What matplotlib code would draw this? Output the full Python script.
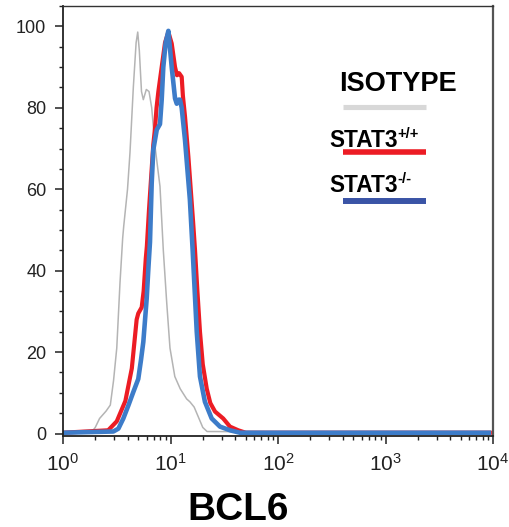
#!/usr/bin/env python
"""
BCL6 flow cytometry histogram: isotype vs STAT3+/+ vs STAT3-/-.
"""
import numpy as np
import matplotlib
matplotlib.use('Agg')
import matplotlib.pyplot as plt
from matplotlib.ticker import MultipleLocator, LogLocator

plt.rcParams['font.family'] = ['Liberation Sans', 'DejaVu Sans']
plt.rcParams['mathtext.fontset'] = 'custom'
plt.rcParams['mathtext.rm'] = 'Liberation Sans'
plt.rcParams['mathtext.bf'] = 'Liberation Sans:bold'

# histogram traces, x given as log10(BCL6 intensity), y as % of max
iso_log = [0.00, 0.26, 0.30, 0.34, 0.40, 0.44, 0.47, 0.50, 0.53, 0.555,
           0.565, 0.60, 0.623, 0.654, 0.68, 0.695, 0.71, 0.73, 0.747, 0.775,
           0.80, 0.825, 0.856, 0.902, 0.933, 0.965, 0.995, 1.04, 1.09, 1.15,
           1.18, 1.22, 1.26, 1.30, 1.34, 3.97]
iso_pct = [0.2, 0.2, 1.5, 3.7, 5.5, 7.0, 13, 21, 37, 48,
           51, 60, 69, 85, 96, 98.6, 94, 84, 82, 84.5,
           84, 80, 70.5, 60.7, 45, 32, 21, 14, 11, 8.5,
           7.8, 6.5, 4.0, 1.5, 0.5, 0.2]

wt_log = [0.00, 0.42, 0.50, 0.58, 0.64, 0.67, 0.685, 0.70, 0.732, 0.75,
          0.77, 0.78, 0.80, 0.825, 0.84, 0.856, 0.87, 0.887, 0.918, 0.949,
          0.98, 1.011, 1.042, 1.06, 1.08, 1.104, 1.115, 1.135, 1.166, 1.21,
          1.228, 1.25, 1.274, 1.30, 1.337, 1.37, 1.414, 1.49, 1.553, 1.63,
          1.70, 3.97]
wt_pct = [0.2, 0.8, 3.0, 8.0, 16, 24, 28, 29.5, 31, 35,
          43, 46, 55, 65, 71, 75, 80, 84, 90, 96,
          98.6, 95.8, 90, 88, 88.5, 87.6, 83, 77.8, 68, 52,
          45, 35, 25, 17, 11, 7.5, 5.4, 3.7, 1.7, 0.8,
          0.2, 0.2]

ko_log = [0.00, 0.468, 0.515, 0.561, 0.608, 0.654, 0.70, 0.725, 0.747, 0.778,
          0.795, 0.809, 0.825, 0.84, 0.872, 0.902, 0.918, 0.933, 0.955, 0.98,
          1.011, 1.042, 1.058, 1.075, 1.088, 1.104, 1.135, 1.18, 1.197, 1.206,
          1.244, 1.274, 1.32, 1.383, 1.46, 1.553, 1.646, 3.96]
ko_pct = [0.2, 0.5, 1.2, 3.7, 6.9, 10.2, 13.4, 18, 22.5, 33,
          41, 47, 61.5, 69.7, 74.6, 76, 82, 90, 96, 98.9,
          90, 82.3, 81, 82, 82, 80, 72, 57.5, 49.3, 45,
          25, 14, 7.8, 3.7, 1.7, 0.8, 0.2, 0.2]

labels = ['ISOTYPE', 'STAT3', 'STAT3']
label_sups = ['', '+/+', '-/-']
curve_colors = ['#b4b4b4', '#ec1c24', '#3d7cc9']
key_colors = ['#d8d8d8', '#ec1c24', '#3a54a6']

fig = plt.figure(figsize=(5.09, 5.27), dpi=100)
ax = fig.add_axes([0.1238, 0.1727, 0.8448, 0.8159])

ax.plot(10 ** np.array(iso_log), iso_pct, color=curve_colors[0], lw=1.1)
ax.plot(10 ** np.array(wt_log), wt_pct, color=curve_colors[1], lw=3.0)
ax.plot(10 ** np.array(ko_log), ko_pct, color=curve_colors[2], lw=3.3)

ax.set_xscale('log')
ax.set_xlim(1, 1e4)
ax.set_ylim(-0.6, 105)
ax.yaxis.set_major_locator(MultipleLocator(20))
ax.yaxis.set_minor_locator(MultipleLocator(5))
ax.xaxis.set_minor_locator(LogLocator(base=10, subs=np.arange(2, 10)))
ax.tick_params(which='major', direction='out', length=6, width=1.1,
               labelsize=13, colors='#222222', pad=5)
ax.tick_params(which='minor', direction='out', length=3, width=1.0,
               colors='#222222')
ax.tick_params(axis='y', pad=6)
ax.tick_params(axis='x', labelsize=15, pad=6)

for side in ['left', 'bottom']:
    ax.spines[side].set_linewidth(1.3)
    ax.spines[side].set_color('#222222')
ax.spines['top'].set_linewidth(1.0)
ax.spines['top'].set_color('#333333')
ax.spines['right'].set_linewidth(1.6)
ax.spines['right'].set_color('#555555')

ax.set_xlabel('BCL6', fontsize=28, fontweight='bold')
ax.xaxis.label.set_va('baseline')
ax.xaxis.set_label_coords(0.406, -0.195)

# legend: label text above a coloured bar
t = ax.text(0.643, 0.803, labels[0], transform=ax.transAxes, fontsize=19.5,
            fontweight='bold', ha='left', va='baseline')
for lab, sup, yt in zip(labels[1:], label_sups[1:], [0.673, 0.567]):
    t = ax.text(0.620, yt, lab, transform=ax.transAxes, fontsize=16.3,
                fontweight='bold', ha='left', va='baseline')
    ax.annotate(sup, xy=(1.0, 0.6), xycoords=t, xytext=(-0.8, 0),
                textcoords='offset points', fontsize=10.5,
                fontweight='bold', ha='left', va='baseline')
for yk, col, lw in zip([0.766, 0.660, 0.5465], key_colors, [3.7, 4.0, 4.3]):
    ax.plot([0.650, 0.843], [yk, yk], transform=ax.transAxes, color=col,
            lw=lw, solid_capstyle='butt')

fig.savefig('out.png', dpi=100)
